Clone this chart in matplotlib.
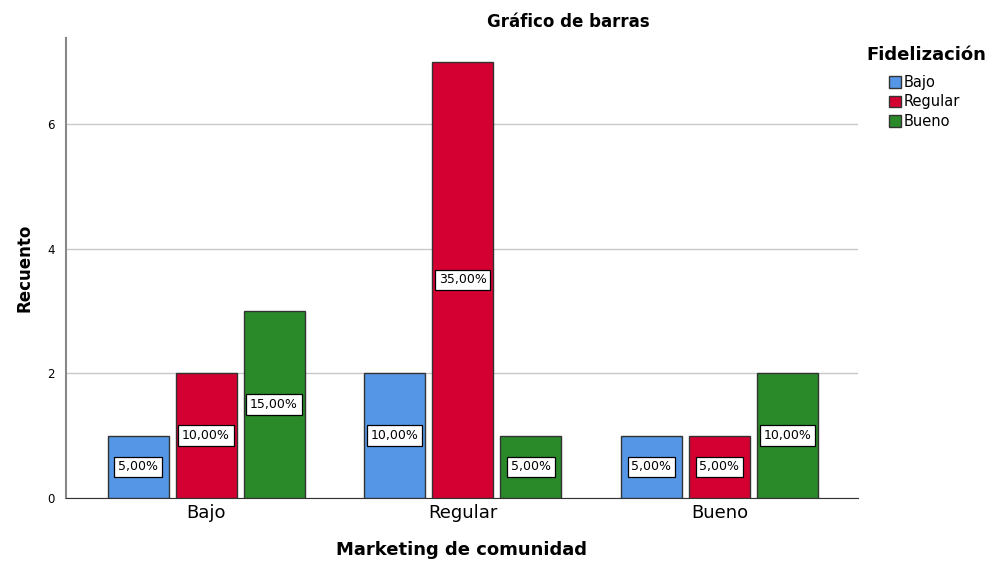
import matplotlib.pyplot as plt
import numpy as np

categorias = ["Bajo", "Regular", "Bueno"]
series = ["Bajo", "Regular", "Bueno"]
recuento = {
    "Bajo": [1, 2, 1],
    "Regular": [2, 7, 1],
    "Bueno": [3, 1, 2],
}
porcentaje = {
    "Bajo": ["5,00%", "10,00%", "5,00%"],
    "Regular": ["10,00%", "35,00%", "5,00%"],
    "Bueno": ["15,00%", "5,00%", "10,00%"],
}
colores = {"Bajo": "#5597e6", "Regular": "#d50032", "Bueno": "#2a8a2a"}

fig = plt.figure(figsize=(9.98, 5.62), dpi=100)
ax = fig.add_axes([0.0661, 0.1139, 0.7936, 0.8185])

x = np.arange(len(categorias))
ancho = 0.238
paso = 0.265
handles = []
for i, s in enumerate(series):
    pos = x + (i - 1) * paso
    b = ax.bar(pos, recuento[s], width=ancho, color=colores[s], edgecolor="#333333",
               linewidth=1.0, label=s, zorder=3)
    handles.append(b)
    for xp, v, t in zip(pos, recuento[s], porcentaje[s]):
        ax.text(xp, v / 2, t, ha="center", va="center", fontsize=9, zorder=4,
                bbox=dict(boxstyle="square,pad=0.3", fc="white", ec="black", lw=0.9))

ax.set_xlim(-0.546, 2.54)
ax.set_ylim(0, 7.38)
ax.set_yticks([0, 2, 4, 6])
ax.yaxis.grid(True, color="#c8c8c8", linewidth=1.0, zorder=0)
ax.tick_params(axis="y", length=0, labelsize=8.5, pad=8)
ax.tick_params(axis="x", length=0, labelsize=13, pad=4)
ax.set_xticks(x)
ax.set_xticklabels(categorias)
for sp in ["top", "right"]:
    ax.spines[sp].set_visible(False)
ax.spines["left"].set_color("#888888")
ax.spines["left"].set_linewidth(1.5)
ax.spines["bottom"].set_color("#333333")

ax.set_ylabel("Recuento", fontsize=12, fontweight="bold", labelpad=10)
ax.set_xlabel("Marketing de comunidad", fontsize=13, fontweight="bold", labelpad=14)
fig.text(0.569, 0.96, "Gráfico de barras", ha="center", va="center",
         fontsize=12, fontweight="bold")

fig.text(866 / 998, 1 - 55 / 562, "Fidelización", ha="left", va="center",
         fontsize=13, fontweight="bold")
leg = fig.legend(handles=handles, labels=series, loc="upper left",
                 bbox_to_anchor=(889 / 998, 1 - 75 / 562), frameon=False,
                 fontsize=10.5, handlelength=0.85, handleheight=0.85,
                 handletextpad=0.15, labelspacing=0.3, borderpad=0, borderaxespad=0)

fig.savefig("out.png", dpi=100)
